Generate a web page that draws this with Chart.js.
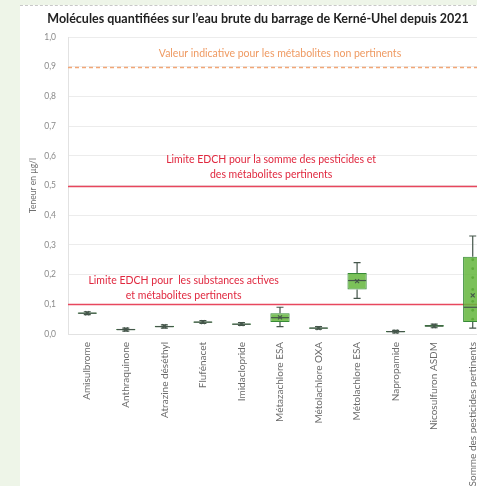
<!DOCTYPE html>
<html>
<head>
  <meta charset="utf-8">
  <title>Molécules quantifiées - Kerné-Uhel</title>
  <script src="https://cdn.jsdelivr.net/npm/chart.js@4.4.1/dist/chart.umd.min.js"></script>
  <style>
    html, body { margin: 0; padding: 0; background: #eef5e8; overflow: hidden; width: 477px; height: 486px; }
    .panel { position: absolute; left: 20px; top: 5px; width: 476px; height: 481px; background: #fff; border-top: 1px dashed #c8c8c8; }
    .panel canvas { display: block; }
  </style>
</head>
<body>
  <div class="panel">
    <canvas id="myChart" width="476" height="481"></canvas>
  </div>
<script>
// molécules
const categories = [
  'Amisulbrome', 'Anthraquinone', 'Atrazine déséthyl', 'Flufénacet', 'Imidaclopride',
  'Métazachlore ESA', 'Métolachlore OXA', 'Métolachlore ESA', 'Napropamide',
  'Nicosulfuron ASDM', 'Somme des pesticides pertinents'
];
// valeurs en µg/l
const minValues    = [0.065, 0.010, 0.020, 0.036, 0.029, 0.025, 0.016, 0.120, 0.004, 0.021, 0.020];
const q1Values     = [0.068, 0.013, 0.023, 0.038, 0.031, 0.040, 0.018, 0.150, 0.006, 0.024, 0.040];
const medianValues = [0.070, 0.015, 0.025, 0.040, 0.033, 0.055, 0.020, 0.180, 0.008, 0.027, 0.090];
const meanValues   = [0.070, 0.015, 0.026, 0.040, 0.033, 0.056, 0.020, 0.178, 0.008, 0.027, 0.130];
const q3Values     = [0.072, 0.017, 0.028, 0.042, 0.035, 0.070, 0.022, 0.205, 0.010, 0.030, 0.260];
const maxValues    = [0.075, 0.020, 0.031, 0.045, 0.038, 0.090, 0.025, 0.240, 0.012, 0.033, 0.330];
// quelques points isolés sur la somme
const sumPoints = [0.05, 0.08, 0.11, 0.15, 0.19, 0.22, 0.25];
const yTicks = [0, 0.1, 0.2, 0.3, 0.4, 0.5, 0.6, 0.7, 0.8, 0.9, 1.0];

// seuils
const seuils = [
  { value: 0.9, color: '#f2a676', dash: [4, 3], text: ['Valeur indicative pour les métabolites non pertinents'], textColor: '#ef9a62', at: 5.0, dy: -14 },
  { value: 0.5, color: '#e8475e', dash: [], text: ['Limite EDCH pour la somme des pesticides et', 'des métabolites pertinents'], textColor: '#e0283f', at: 4.77, dy: -27 },
  { value: 0.1, color: '#e8475e', dash: [], text: ['Limite EDCH pour  les substances actives', 'et métabolites pertinents'], textColor: '#e0283f', at: 2.5, dy: -24 }
];

const fontFam = 'Lato, "Open Sans", sans-serif';

const seuilsPlugin = {
  id: 'seuils',
  beforeDatasetsDraw(chart) {
    const ctx = chart.ctx, area = chart.chartArea;
    const y = chart.scales.y, x = chart.scales.x;
    ctx.save();
    seuils.forEach(s => {
      const py = Math.round(y.getPixelForValue(s.value)) + 0.5;
      ctx.strokeStyle = s.color;
      ctx.lineWidth = 1.5;
      ctx.setLineDash(s.dash);
      ctx.beginPath();
      ctx.moveTo(area.left, py);
      ctx.lineTo(area.right, py);
      ctx.stroke();
      ctx.setLineDash([]);
      ctx.fillStyle = s.textColor;
      ctx.font = '10.5px ' + fontFam;
      ctx.textAlign = 'center';
      ctx.textBaseline = 'middle';
      const cx = x.getPixelForValue(s.at);
      s.text.forEach((t, k) => ctx.fillText(t, cx, py + s.dy + k * 15));
    });
    ctx.restore();
  }
};

const boxPlugin = {
  id: 'boxes',
  afterDatasetsDraw(chart) {
    const ctx = chart.ctx;
    const x = chart.scales.x, y = chart.scales.y;
    ctx.save();
    ctx.strokeStyle = '#45564b';
    ctx.lineWidth = 1.2;
    categories.forEach((c, i) => {
      const px = x.getPixelForValue(i);
      const yMin = y.getPixelForValue(minValues[i]);
      const yMax = y.getPixelForValue(maxValues[i]);
      const yQ1 = y.getPixelForValue(q1Values[i]);
      const yQ3 = y.getPixelForValue(q3Values[i]);
      const yMed = y.getPixelForValue(medianValues[i]);
      const yMean = y.getPixelForValue(meanValues[i]);
      ctx.beginPath();
      ctx.moveTo(px, yQ1); ctx.lineTo(px, yMin);
      ctx.moveTo(px, yQ3); ctx.lineTo(px, yMax);
      ctx.moveTo(px - 3.5, yMin); ctx.lineTo(px + 3.5, yMin);
      ctx.moveTo(px - 3.5, yMax); ctx.lineTo(px + 3.5, yMax);
      ctx.stroke();
      // médiane
      ctx.beginPath();
      ctx.moveTo(px - 9, yMed); ctx.lineTo(px + 9, yMed);
      ctx.stroke();
      // moyenne
      ctx.beginPath();
      ctx.moveTo(px - 2, yMean - 2); ctx.lineTo(px + 2, yMean + 2);
      ctx.moveTo(px + 2, yMean - 2); ctx.lineTo(px - 2, yMean + 2);
      ctx.stroke();
    });
    ctx.restore();
  }
};

const ctx = document.getElementById('myChart').getContext('2d');
const myChart = new Chart(ctx, {
  type: 'bar',
  data: {
    labels: categories,
    datasets: [{
      label: 'Boîte',
      data: categories.map((c, i) => [q1Values[i], q3Values[i]]),
      backgroundColor: 'rgba(100, 182, 60, 0.85)',
      borderColor: '#368a36',
      borderWidth: 1,
      borderSkipped: false,
      barPercentage: 0.5,
      categoryPercentage: 1.0
    }, {
      type: 'scatter',
      label: 'Points',
      data: sumPoints.map(v => ({ x: categories[10], y: v })),
      pointRadius: 1.4,
      pointBackgroundColor: '#3f6b3a',
      pointBorderWidth: 0
    }]
  },
  options: {
    responsive: false,
    animation: false,
    layout: { padding: { left: 0, right: 0, top: 0, bottom: 0 } },
    plugins: {
      legend: { display: false },
      tooltip: { enabled: false },
      title: {
        display: true,
        text: 'Molécules quantifiées sur l\u2019eau brute du barrage de Kerné-Uhel depuis 2021',
        color: '#222',
        font: { family: fontFam, size: 12.5, weight: 'bold' },
        padding: { top: 5, bottom: 11 }
      }
    },
    scales: {
      x: {
        type: 'category',
        offset: true,
        grid: { display: false },
        border: { display: true, color: '#e2e2e2' },
        ticks: {
          color: '#6a6a6a',
          font: { family: fontFam, size: 10 },
          minRotation: 90,
          maxRotation: 90,
          autoSkip: false,
          padding: 0
        },
        afterFit(scale) { scale.height = 153; }
      },
      y: {
        min: 0,
        max: 1,
        afterBuildTicks(scale) { scale.ticks = yTicks.map(v => ({ value: v })); },
        grid: { color: '#ececec', drawTicks: false },
        border: { display: true, color: '#e2e2e2' },
        ticks: {
          color: '#8a8a8a',
          font: { family: fontFam, size: 8.5 },
          padding: 12,
          callback: v => v.toFixed(1).replace('.', ',')
        },
        title: {
          display: true,
          text: 'Teneur en µg/l',
          color: '#707070',
          font: { family: fontFam, size: 8.5 },
          padding: { top: 8, bottom: 0 }
        },
        afterFit(scale) { scale.width = 48; }
      }
    }
  },
  plugins: [seuilsPlugin, boxPlugin]
});
</script>
</body>
</html>
